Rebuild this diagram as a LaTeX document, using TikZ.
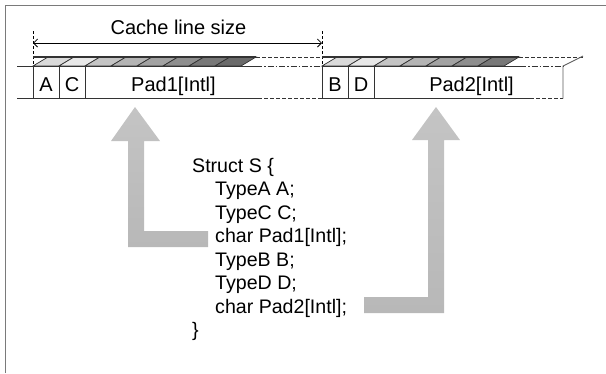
\documentclass[tikz,border=0pt]{standalone}
\usepackage{fontspec}
\setmainfont{Liberation Sans}
\usetikzlibrary{arrows.meta}
\definecolor{framec}{HTML}{7A7A7A}
\definecolor{linec}{HTML}{333333}
\definecolor{arrtop}{HTML}{C4C4C4}
\definecolor{arrmid}{HTML}{F8F8F8}
\definecolor{arrbot}{HTML}{B8B8B8}
\definecolor{ca}{HTML}{DADADA}
\definecolor{cb}{HTML}{E8E8E8}
\definecolor{cc}{HTML}{C4C4C4}
\definecolor{cd}{HTML}{B4B4B4}
\definecolor{ce}{HTML}{A2A2A2}
\definecolor{cf}{HTML}{8E8E8E}
\definecolor{cg}{HTML}{787878}
\definecolor{ch}{HTML}{6A6A6A}
\tikzset{
  lab/.style={font=\fontsize{20}{22}\selectfont, inner sep=0pt, anchor=base},
  codeline/.style={font=\fontsize{19.6}{22}\selectfont, inner sep=0pt, anchor=base west},
  stripline/.style={draw=linec, line width=0.9pt},
  dashline/.style={draw=linec, line width=0.9pt, dash pattern=on 4pt off 2pt},
  dashdotline/.style={draw=linec, line width=0.9pt, dash pattern=on 6pt off 2pt on 1.5pt off 2pt},
  guide/.style={draw=black, line width=0.7pt, dash pattern=on 3pt off 2pt},
  cell/.style={draw=linec, line width=0.7pt},
  blockarrow/.style={draw=none, top color=arrtop, middle color=arrmid, bottom color=arrbot},
}
\begin{document}
\begin{tikzpicture}[x=1pt,y=-1pt]
\useasboundingbox (0,0) rectangle (606,373);
% frame
\draw[framec, line width=1.6pt] (5.5,373) -- (5.5,5.5) -- (606,5.5);

% guide lines and dimension arrow
\coordinate (dl) at (33,43);
\coordinate (dr) at (322,43);
\draw[guide] (33,31) -- (33,66);
\draw[guide] (322,31) -- (322,66);
\draw[line width=0.8pt, {Straight Barb[length=4pt,width=8pt]}-{Straight Barb[length=4pt,width=8pt]}] (dl) -- (dr);
\node[lab] (cls) at (178.5,34.3) {Cache line size};

% top face cells, group 1
\foreach \i/\c in {0/ca,1/cb,2/cc,3/cd,4/ce,5/cf,6/cg,7/ch}{
  \filldraw[cell, fill=\c] ({33+26*\i},66) -- ({59+26*\i},66) -- ({74+26*\i},57) -- ({48+26*\i},57) -- cycle;
}
% top face cells, group 2
\foreach \i/\c in {0/ca,1/cb,2/cc,3/cd,4/ce,5/cf,6/cg}{
  \filldraw[cell, fill=\c] ({322+26*\i},66) -- ({348+26*\i},66) -- ({363+26*\i},57) -- ({337+26*\i},57) -- cycle;
}
% top edge
\draw[stripline, line width=1.3pt] (33,57) -- (256,57);
\draw[dashline] (256,57) -- (322,57);
\draw[stripline, line width=1.3pt] (322,57) -- (519,57);
\draw[dashline] (519,57) -- (583,57);
% front top line
\draw[stripline] (17,66) -- (256,66);
\draw[dashdotline] (256,66) -- (322,66);
\draw[stripline] (322,66) -- (520,66);
\draw[dashdotline] (520,66) -- (563,66);
% bottom line
\draw[stripline] (17,98.5) -- (258,98.5);
\draw[dashline] (258,98.5) -- (322,98.5);
\draw[stripline] (322,98.5) -- (530,98.5);
\draw[dashline] (530,98.5) -- (563,98.5);
% right end
\draw[draw=linec!80, line width=0.9pt] (563,98.5) -- (563,66) -- (583,56);
% box separators
\foreach \x in {33,59,85,322,348,374}{
  \draw[stripline] (\x,66) -- (\x,98.5);
}
% labels
\node[lab] (labA) at (46,91.5) {A};
\node[lab] (labC) at (72,91.5) {C};
\node[lab] (labP1) at (173.5,91.5) {Pad1[Intl]};
\node[lab] (labB) at (335,91.5) {B};
\node[lab] (labD) at (361,91.5) {D};
\node[lab] (labP2) at (471.5,91.5) {Pad2[Intl]};

% block arrows
\path[blockarrow] (135,107) -- (160,141) -- (144,141) -- (144,231) -- (208,231) -- (208,247) -- (128,247) -- (128,141) -- (111,141) -- cycle;
\path[blockarrow] (436,107) -- (460,140) -- (444,140) -- (444,313) -- (364,313) -- (364,297) -- (428,297) -- (428,140) -- (412,140) -- cycle;

% code
\node[codeline] (l1) at (192,172) {Struct S \{};
\node[codeline] (l2) at (215,195.5) {TypeA A;};
\node[codeline] (l3) at (215,219) {TypeC C;};
\node[codeline] (l4) at (215,242.5) {char Pad1[Intl];};
\node[codeline] (l5) at (215,266) {TypeB B;};
\node[codeline] (l6) at (215,289.5) {TypeD D;};
\node[codeline] (l7) at (215,313) {char Pad2[Intl];};
\node[codeline] (l8) at (192,336.5) {\}};
\end{tikzpicture}
\end{document}
